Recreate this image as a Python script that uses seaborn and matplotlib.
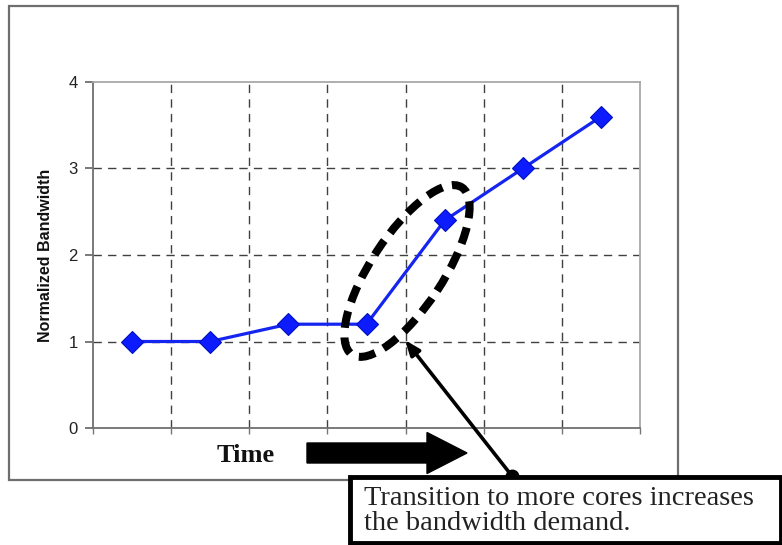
import matplotlib
matplotlib.use("Agg")
import matplotlib.pyplot as plt
import seaborn as sns
import pandas as pd
import numpy as np
from matplotlib.patches import Ellipse, Rectangle, FancyArrow
from matplotlib.transforms import IdentityTransform

# ---- data ----
periods = [0, 1, 2, 3, 4, 5, 6]
bandwidth = [1.0, 1.0, 1.2, 1.2, 2.4, 3.0, 3.6]
y_ticks = [0, 1, 2, 3, 4]
x_label = "Time"
y_label = "Normalized Bandwidth"
callout_text = "Transition to more cores increases\nthe bandwidth demand."

W, H = 782, 545
sns.set_style("white")
plt.rcParams['font.family'] = ['Liberation Sans', 'DejaVu Sans']

fig = plt.figure(figsize=(W / 100, H / 100), dpi=100)
fig.patch.set_facecolor("white")

def px(x, y):
    """image pixel (y down) -> display coordinates (y up)"""
    return x, H - y

# outer frame
fig.patches.append(Rectangle(px(9, 480), 669, 474, transform=IdentityTransform(),
                             fill=False, edgecolor="#6e6e6e", lw=1.6, zorder=0))

ax = fig.add_axes([93 / W, (H - 428) / H, (640 - 93) / W, (428 - 82) / H])
df = pd.DataFrame({"t": periods, "bw": bandwidth})
sns.lineplot(data=df, x="t", y="bw", ax=ax, color="#1525f0", lw=2.3,
             marker="D", markersize=11, markerfacecolor="#0d1cff",
             markeredgecolor="#0010c0", markeredgewidth=0.8, zorder=5)

ax.set_xlim(-0.5, len(periods) - 0.5)
ax.set_ylim(0, 4)
ax.set_yticks(y_ticks)
ax.set_yticklabels([str(v) for v in y_ticks])
bounds = np.arange(-0.5, len(periods), 1.0)
ax.set_xticks(bounds)
ax.set_xticklabels([])

# grid lines
for b in bounds[1:-1]:
    ax.axvline(b, color="#404040", lw=1.0, ls=(0, (6, 4.5)), zorder=1)
for v in y_ticks[1:-1]:
    ax.axhline(v, color="#404040", lw=1.0, ls=(0, (6, 4.5)), zorder=1)

for s in ["left", "bottom"]:
    ax.spines[s].set_color("#707070")
    ax.spines[s].set_linewidth(1.3)
for s in ["top", "right"]:
    ax.spines[s].set_color("#a8a8a8")
    ax.spines[s].set_linewidth(1.3)

ax.tick_params(axis="y", direction="out", length=6, width=1.1, color="#555555",
               labelsize=12, labelcolor="#222222", pad=5, left=True)
ax.tick_params(axis="x", direction="out", length=4, width=1.0, color="#777777",
               bottom=True)
ax.set_xlabel("")
ax.set_ylabel(y_label, fontsize=11.5, fontweight="bold", color="#111111")
ax.yaxis.set_label_coords(-0.073, 0.5)

# dashed ellipse around the transition
fig.patches.append(Ellipse(px(407, 271), 200, 72, angle=56.7,
                           transform=IdentityTransform(), fill=False,
                           edgecolor="black", lw=5.8, ls=(0, (2.1, 1.2)), zorder=10))

# Time arrow
fig.text(246 / W, 1 - 455 / H, x_label, family=["Liberation Serif", "DejaVu Serif"],
         fontweight="bold", fontsize=19, ha="center", va="center", color="#111111")
fig.patches.append(FancyArrow(307, H - 453, 160, 0, width=20, head_width=41,
                              head_length=40, length_includes_head=True,
                              transform=IdentityTransform(), color="black", zorder=10))

# callout box
fig.patches.append(Rectangle(px(350, 543), 431, 66, transform=IdentityTransform(),
                             fill=True, facecolor="white", edgecolor="black",
                             lw=3.5, zorder=11))
fig.text(364 / W, 1 - 511 / H, callout_text, family=["Liberation Serif", "DejaVu Serif"],
         fontsize=20.5, ha="left", va="center", color="#222222", linespacing=1.05,
         zorder=12)

# pointer line with dot
ax_over = fig.add_axes([0, 0, 1, 1], facecolor="none")
ax_over.set_xlim(0, W)
ax_over.set_ylim(H, 0)
ax_over.axis("off")
ax_over.annotate("", xy=(405, 340), xytext=(512, 476),
                 arrowprops=dict(arrowstyle="-|>,head_length=0.9,head_width=0.35",
                                 color="black", lw=2.6, shrinkA=0, shrinkB=0))
ax_over.plot([512], [476], "o", color="black", markersize=9, zorder=13)

fig.savefig("out.png", dpi=100, facecolor="white")
